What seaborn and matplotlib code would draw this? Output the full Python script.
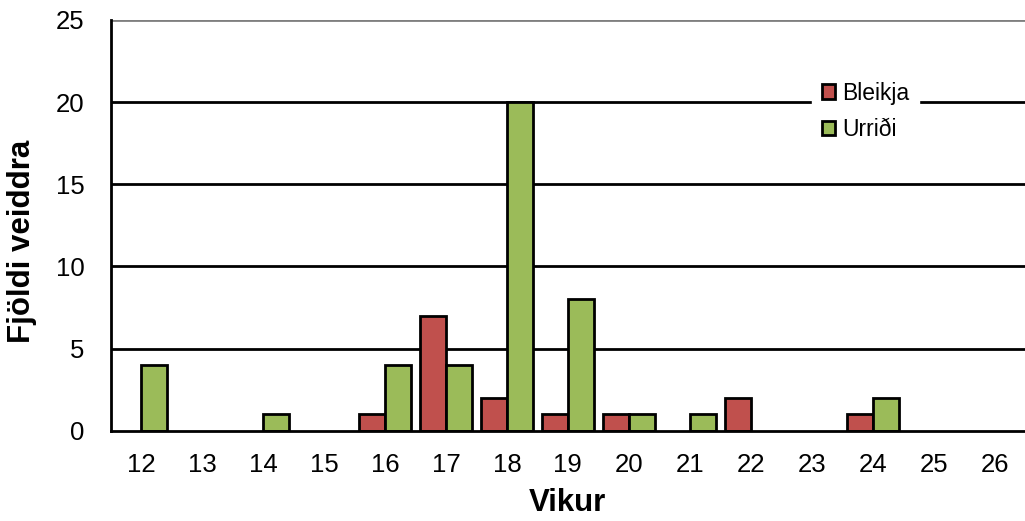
import matplotlib
matplotlib.use("Agg")
import matplotlib.pyplot as plt
import pandas as pd
import seaborn as sns
from matplotlib.ticker import MultipleLocator

vikur = list(range(12, 27))
bleikja = [0, 0, 0, 0, 1, 7, 2, 1, 1, 0, 2, 0, 1, 0, 0]
urridi = [4, 0, 1, 0, 4, 4, 20, 8, 1, 1, 0, 0, 2, 0, 0]
tegundir = ["Bleikja", "Urriði"]
litir = ["#C0504D", "#9BBB59"]

sns.set_theme(style="white")
plt.rcParams["font.family"] = ["Liberation Sans", "DejaVu Sans"]
plt.rcParams["text.color"] = "black"
plt.rcParams["axes.labelcolor"] = "black"
plt.rcParams["xtick.color"] = "black"
plt.rcParams["ytick.color"] = "black"

df = pd.DataFrame({
    "vika": [str(v) for v in vikur] * 2,
    "fjoldi": bleikja + urridi,
    "tegund": [tegundir[0]] * len(vikur) + [tegundir[1]] * len(vikur),
})
df = df[df["fjoldi"] > 0]  # Excel teiknar ekki núll-súlur

fig = plt.figure(figsize=(10.25, 5.21), dpi=100)
ax = fig.add_axes([0.108, 0.173, 0.892, 0.789])

sns.barplot(data=df, x="vika", y="fjoldi", hue="tegund", order=[str(v) for v in vikur],
            hue_order=tegundir, palette=litir, width=0.85, edgecolor="black",
            linewidth=2, saturation=1, ax=ax, zorder=3)

ax.set_ylim(0, 25)
ax.set_xlim(-0.5, len(vikur) - 0.5)
ax.yaxis.set_major_locator(MultipleLocator(5))
for y in [5, 10, 15, 20]:
    ax.axhline(y, color="black", lw=2, zorder=1)
ax.axhline(25, color="#7f7f7f", lw=2, zorder=1)

for s in ["top", "right"]:
    ax.spines[s].set_visible(False)
for s in ["left", "bottom"]:
    ax.spines[s].set_color("black")
    ax.spines[s].set_linewidth(2)
    ax.spines[s].set_zorder(4)

ax.set_xticks(range(len(vikur)))
ax.set_xticklabels([str(v) for v in vikur])
ax.set_xticks([i - 0.5 for i in range(len(vikur) + 1)], minor=True)
ax.tick_params(axis="x", which="major", length=0, labelsize=18.5, pad=16)
ax.tick_params(axis="x", which="minor", length=7, width=2, direction="out")
ax.tick_params(axis="y", length=7, width=2, direction="out", labelsize=18.5, pad=12)

ax.set_xlabel("Vikur", fontsize=22.5, fontweight="bold", labelpad=8)
ax.set_ylabel("Fjöldi veiddra", fontsize=22.5, fontweight="bold")
ax.yaxis.set_label_coords(-0.081, 0.46)

leg = ax.legend(loc="upper left", bbox_to_anchor=(0.755, 0.90), frameon=True,
                fontsize=16.5, handlelength=0.6, handleheight=0.6, handletextpad=0.3,
                labelspacing=0.6, borderpad=0.4)
leg.get_frame().set_edgecolor("white")
leg.get_frame().set_facecolor("white")
leg.get_frame().set_alpha(1)
leg.set_zorder(5)
for h in leg.legend_handles:
    h.set_edgecolor("black")
    h.set_linewidth(2)

fig.savefig("out.png", dpi=100)
